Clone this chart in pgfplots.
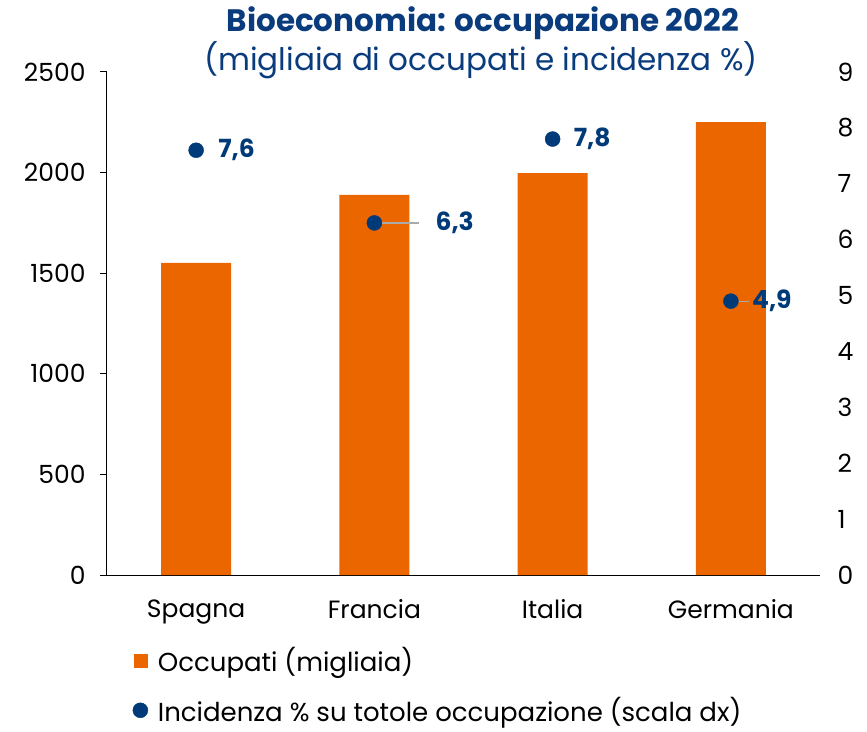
\documentclass[border=0pt]{standalone}
\usepackage{pgfplots}
\pgfplotsset{compat=1.18}
\usepackage{fontspec}
\setmainfont{Poppins}
\definecolor{barorange}{RGB}{236,102,0}
\definecolor{dotblue}{RGB}{0,58,120}
\definecolor{titleblue}{RGB}{10,60,125}
\definecolor{leadgray}{RGB}{170,170,170}
\begin{document}
\begin{tikzpicture}
\useasboundingbox (-107pt,-156pt) rectangle (760pt,575pt);
\begin{axis}[
 scale only axis, width=713pt, height=503pt,
 xmin=-0.5, xmax=3.5, ymin=0, ymax=2500,
 xtick={0,1,2,3}, xticklabels={Spagna,Francia,Italia,Germania},
 ytick={0,500,1000,1500,2000,2500},
 axis x line*=bottom, axis y line*=left,
 x axis line style={-, line width=1pt}, y axis line style={-, line width=1pt},
 xtick style={draw=none},
 ytick style={black, line width=1pt},
 major tick length=7pt, tick align=outside,
 /pgf/number format/assume math mode=true,
 /pgf/number format/1000 sep={},
 tick label style={font=\fontsize{25}{30}\selectfont},
 yticklabel style={xshift=-11pt},
 xticklabel style={yshift=-14pt},
 clip=false,
]
\addplot[ybar, bar width=70pt, fill=barorange, draw=none] coordinates {(0,1551) (1,1889) (2,1998) (3,2251)};
\end{axis}
\begin{axis}[
 scale only axis, width=713pt, height=503pt,
 xmin=-0.5, xmax=3.5, ymin=0, ymax=9,
 axis x line=none, axis y line*=right,
 y axis line style={draw=none},
 ytick={0,1,...,9}, ytick style={draw=none},
 /pgf/number format/assume math mode=true,
 tick label style={font=\fontsize{25}{30}\selectfont},
 yticklabel style={anchor=west, xshift=14pt},
 clip=false,
 legend style={at={(axis description cs:0.036,-0.14)}, anchor=north west, draw=none, fill=none,
   font=\fontsize{26}{31}\selectfont, row sep=20pt, inner sep=0pt,
   /tikz/every odd column/.append style={column sep=8pt}},
 legend cell align=left,
]
\addlegendimage{only marks, mark=square*, mark size=6.5pt, color=barorange}
\addlegendentry{Occupati (migliaia)}
\draw[leadgray, line width=1.2pt] (axis cs:1,6.3) -- ([xshift=45pt]axis cs:1,6.3);
\draw[leadgray, line width=1.2pt] (axis cs:3,4.9) -- ([xshift=18pt]axis cs:3,4.9);
\addplot[only marks, mark=*, mark size=7.5pt, color=dotblue] coordinates {(0,7.6) (1,6.3) (2,7.8) (3,4.9)};
\addlegendentry{Incidenza \% su totole occupazione (scala dx)}
\begin{scope}[every node/.style={font=\fontsize{25}{30}\selectfont\bfseries, text=dotblue, anchor=west, inner sep=0pt}]
\node at ([xshift=22pt]axis cs:0,7.6) {7,6};
\node at ([xshift=61pt]axis cs:1,6.3) {6,3};
\node at ([xshift=21pt]axis cs:2,7.8) {7,8};
\node at ([xshift=21pt]axis cs:3,4.9) {4,9};
\end{scope}
\node[font=\fontsize{31}{36}\selectfont\bfseries, text=titleblue, anchor=center] at ([xshift=376pt, yshift=552pt]axis description cs:0,0) {Bioeconomia: occupazione 2022};
\node[font=\fontsize{31}{36}\selectfont, text=titleblue, anchor=center] at ([xshift=374pt, yshift=515pt]axis description cs:0,0) {(migliaia di occupati e incidenza \%)};
\end{axis}
\end{tikzpicture}
\end{document}
